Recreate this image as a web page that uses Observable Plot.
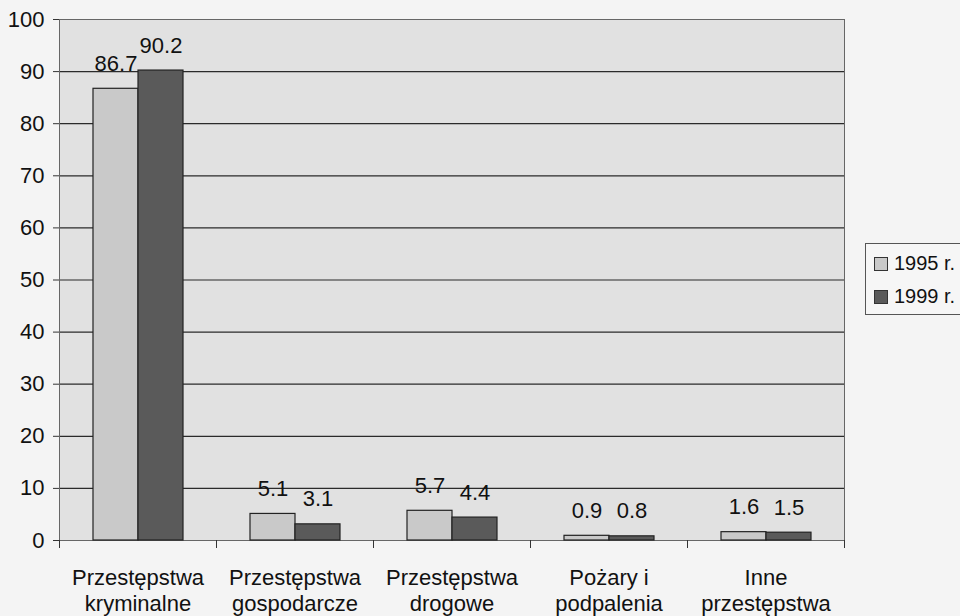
<!DOCTYPE html>
<html>
<head>
<meta charset="utf-8">
<script src="https://cdn.jsdelivr.net/npm/d3@7"></script>
<script src="https://cdn.jsdelivr.net/npm/@observablehq/plot@0.6"></script>
<style>
  html, body { margin: 0; padding: 0; background: #f4f4f4; }
  #wrap { position: relative; width: 960px; height: 616px; overflow: hidden; font-family: "Liberation Sans", Arial, sans-serif; }
  #legend { position: absolute; left: 865px; top: 243px; width: 110px; height: 72px; border: 1px solid #555; background: #f6f6f6; box-sizing: border-box; font-size: 20px; color: #111; }
  .item { position: absolute; left: 8px; display: flex; align-items: center; }
  .sw { width: 12px; height: 12px; border: 1px solid #333; margin-right: 6px; }
</style>
</head>
<body>
<div id="wrap"><div id="chart"></div><div id="legend"></div></div>
<script>
const categories = ["Przestępstwa\nkryminalne", "Przestępstwa\ngospodarcze", "Przestępstwa\ndrogowe", "Pożary i\npodpalenia", "Inne\nprzestępstwa"];
const series = ["1995 r.", "1999 r."];
const values1995 = [86.7, 5.1, 5.7, 0.9, 1.6];
const values1999 = [90.2, 3.1, 4.4, 0.8, 1.5];
const yTicks = [0, 10, 20, 30, 40, 50, 60, 70, 80, 90, 100];
const colors = ["#c9c9c9", "#5a5a5a"];

const data = [];
categories.forEach((c, i) => {
  data.push({cat: c, year: series[0], value: values1995[i]});
  data.push({cat: c, year: series[1], value: values1999[i]});
});

const W = 960, H = 616, mT = 19, mB = 76, mL = 58, mR = 115;
const plotH = H - mT - mB;
const font = "Liberation Sans, Arial, sans-serif";

const chart = Plot.plot({
  width: W, height: H,
  marginTop: mT, marginBottom: mB, marginLeft: mL, marginRight: mR,
  style: {fontFamily: font, fontSize: "21px", color: "#111", background: "transparent"},
  fx: {domain: categories, padding: 0, label: null},
  x: {domain: series, paddingInner: 0, paddingOuter: 0.73, axis: null},
  y: {domain: [0, 100], axis: null},
  color: {domain: series, range: colors},
  marks: [
    Plot.frame({facet: "super", fill: "#e1e1e1", stroke: null}),
    Plot.gridY(yTicks, {stroke: "#2a2a2a", strokeOpacity: 1, strokeWidth: 1.2}),
    Plot.frame({facet: "super", stroke: "#666", fill: null}),
    Plot.axisY(yTicks, {tickSize: 6, tickPadding: 9, fontSize: 22, stroke: "#333", label: null, anchor: "left"}),
    Plot.barY(data, {fx: "cat", x: "year", y: "value", fill: "year", stroke: "#222", strokeWidth: 1.2}),
    Plot.text(data, {fx: "cat", x: "year", y: "value", text: d => d.value.toFixed(1), dy: -18, lineAnchor: "bottom", fontSize: 22}),
    Plot.frame({anchor: "left", insetTop: plotH, insetBottom: -7, stroke: "#333"}),
    Plot.frame({anchor: "right", insetTop: plotH, insetBottom: -7, stroke: "#333"}),
    Plot.axisFx({anchor: "bottom", tickSize: 0, tickPadding: 25, fontSize: 22, lineHeight: 1.22, label: null})
  ]
});
document.getElementById("chart").appendChild(chart);

const leg = document.getElementById("legend");
series.forEach((s, i) => {
  const it = document.createElement("div");
  it.className = "item";
  it.style.top = (8 + i * 33) + "px";
  const sw = document.createElement("div");
  sw.className = "sw";
  sw.style.background = colors[i];
  const t = document.createElement("span");
  t.textContent = s;
  it.appendChild(sw); it.appendChild(t);
  leg.appendChild(it);
});
</script>
</body>
</html>
